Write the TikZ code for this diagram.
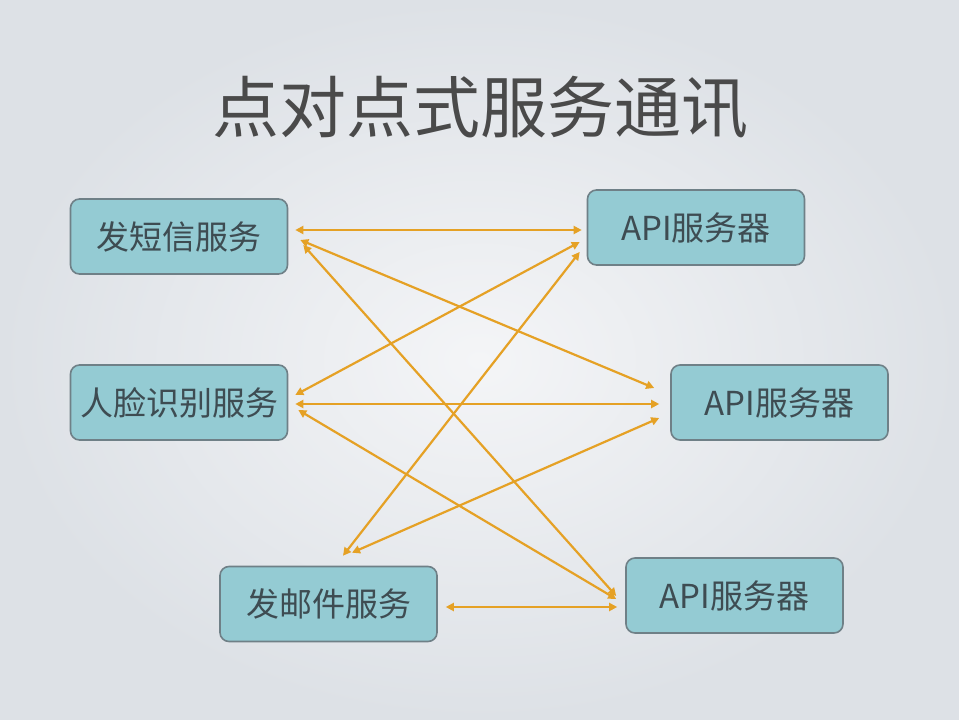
\documentclass[tikz,border=0pt]{standalone}
\usepackage{fontspec}
\newfontfamily\cjk{Noto Sans CJK SC}
\usetikzlibrary{arrows.meta,calc}
\definecolor{bgin}{HTML}{F4F5F7}
\definecolor{bgout}{HTML}{DDE1E6}
\definecolor{boxfill}{HTML}{94CBD3}
\definecolor{boxline}{HTML}{6F8087}
\definecolor{boxtext}{HTML}{3E4C52}
\definecolor{titletext}{HTML}{4A4A4A}
\definecolor{arrowc}{HTML}{E5A125}
\tikzset{
  svcbox/.style={draw=boxline, fill=boxfill, line width=1.6pt, rounded corners=9pt,
    minimum width=217pt, minimum height=75pt, inner sep=0pt,
    font=\cjk\fontsize{33}{38}\selectfont, text=boxtext},
  link/.style={draw=arrowc, line width=2.2pt, {Triangle[length=8pt,width=8pt]}-{Triangle[length=8pt,width=8pt]}}
}
\begin{document}
\begin{tikzpicture}[x=1pt,y=-1pt]
\useasboundingbox (0,0) rectangle (959,720);
\shade[inner color=bgin, outer color=bgout] (0,0) rectangle (959,720);
\node[font=\cjk\fontsize{67}{72}\selectfont, text=titletext] (title) at (480,108) {点对点式服务通讯};
\node[svcbox] (a1) at (179,236.5) {发短信服务};
\node[svcbox] (a2) at (179,402.5) {人脸识别服务};
\node[svcbox] (a3) at (328.5,604) {发邮件服务};
\node[svcbox] (b1) at (696,227.5) {API服务器};
\node[svcbox] (b2) at (779.5,402.5) {API服务器};
\node[svcbox] (b3) at (734.5,595.5) {API服务器};
\draw[link] ($(a1.east)+(7,-6.5)$) -- ($(b1.west)+(-5,2.5)$);
\draw[link] ($(a1.east)+(12,3.5)$) -- ($(b2.west)+(-16,-14.5)$);
\draw[link] ($(a1.east)+(15,8.5)$) -- ($(b3.west)+(-9,0.5)$);
\draw[link] ($(a2.east)+(7,-7.5)$) -- ($(b1.west)+(-7,14.5)$);
\draw[link] ($(a2.east)+(7,1.5)$) -- ($(b2.west)+(-11,1.5)$);
\draw[link] ($(a2.east)+(10,7.5)$) -- ($(b3.west)+(-9,3.5)$);
\draw[link] ($(a3.north)+(14.5,-10)$) -- ($(b1.west)+(-7,24.5)$);
\draw[link] ($(a3.north)+(23.5,-13)$) -- ($(b2.west)+(-11,15.5)$);
\draw[link] ($(a3.east)+(8,3)$) -- ($(b3.west)+(-8,11.5)$);
\end{tikzpicture}
\end{document}
